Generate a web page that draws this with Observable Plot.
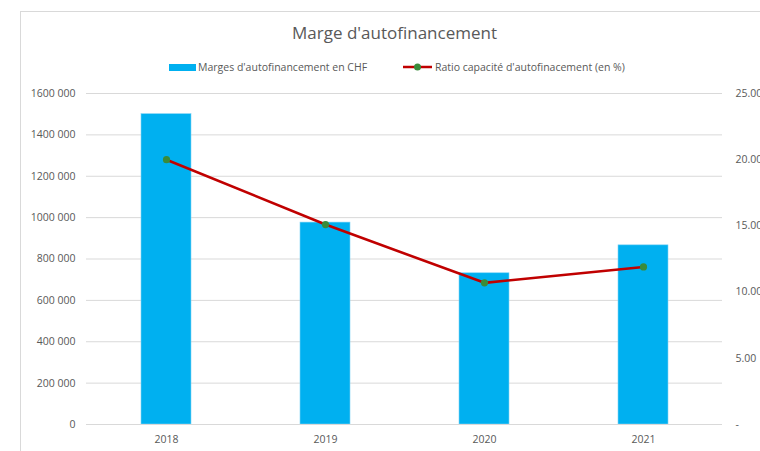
<!DOCTYPE html>
<html>
<head>
<meta charset="utf-8">
<script src="https://cdn.jsdelivr.net/npm/d3@7"></script>
<script src="https://cdn.jsdelivr.net/npm/@observablehq/plot@0.6"></script>
<style>
  html, body { margin: 0; padding: 0; background: #fff; overflow: hidden; }
  body { width: 760px; height: 451px; position: relative; font-family: "Open Sans", sans-serif; color: #595959; }
  #frame { position: absolute; left: 20px; top: 11px; width: 800px; height: 500px; border: 1px solid #d9d9d9; box-sizing: border-box; }
  #title { position: absolute; left: 0; width: 789px; top: 21px; text-align: center; font-size: 17px; color: #595959; }
  .leg { position: absolute; top: 59px; font-size: 10.5px; color: #595959; white-space: nowrap; line-height: 16px; }
  #chart { position: absolute; left: 0; top: 0; }
</style>
</head>
<body>
<div id="frame"></div>
<div id="title">Marge d'autofinancement</div>
<div class="leg" style="left:169px;"><span style="display:inline-block;width:27px;height:7px;background:#00B0F0;vertical-align:middle;margin-right:2px;position:relative;top:-1px;"></span>Marges d'autofinancement en CHF</div>
<div class="leg" style="left:403px;"><svg width="29" height="10" style="vertical-align:middle;margin-right:3px;position:relative;top:-1px;"><line x1="0" y1="5" x2="29" y2="5" stroke="#C00000" stroke-width="2.5"/><circle cx="14.5" cy="5" r="3.5" fill="#3a8b3a"/></svg>Ratio capacité d'autofinacement (en %)</div>
<div id="chart"></div>
<script>
const years = ["2018", "2019", "2020", "2021"];
const marges = [1500000, 976000, 731000, 866000];
const ratios = [20.0, 15.1, 10.7, 11.9];
const leftTicks = [0, 200000, 400000, 600000, 800000, 1000000, 1200000, 1400000, 1600000];
const rightTicks = [0, 5, 10, 15, 20, 25];

const yMax = 1600000;
const rMax = 25;
const k = yMax / rMax;

const data = years.map((y, i) => ({year: y, marge: marges[i], ratio: ratios[i], ry: ratios[i] * k}));

function fmtLeft(v) {
  if (v === 0) return "0";
  const th = Math.floor(v / 1000);
  return th + " 000";
}
function fmtRight(v) {
  const p = v / k;
  if (Math.abs(p) < 1e-9) return "-";
  return p.toFixed(2);
}

const font = "Open Sans, sans-serif";

const plot = Plot.plot({
  width: 760,
  height: 451,
  marginLeft: 86,
  marginRight: 38,
  marginTop: 93,
  marginBottom: 27,
  style: {fontFamily: font, fontSize: "10.5px", color: "#595959", background: "transparent"},
  x: {domain: years, paddingInner: 0.686, paddingOuter: 0.343, label: null},
  y: {domain: [0, yMax], label: null},
  marks: [
    Plot.gridY(leftTicks, {stroke: "#d9d9d9", strokeOpacity: 1, strokeWidth: 1}),
    Plot.barY(data, {x: "year", y: "marge", fill: "#00B0F0", stroke: "#7fd3f5", strokeWidth: 0.6}),
    Plot.ruleY([0], {stroke: "#d9d9d9", strokeWidth: 1.2}),
    Plot.line(data, {x: "year", y: "ry", stroke: "#C00000", strokeWidth: 2.6}),
    Plot.dot(data, {x: "year", y: "ry", r: 3.6, fill: "#3a8b3a", stroke: "none"}),
    Plot.axisY(leftTicks, {anchor: "left", tickSize: 0, tickPadding: 11, tickFormat: fmtLeft, label: null, fill: "#595959"}),
    Plot.axisY(rightTicks.map(t => t * k), {anchor: "right", tickSize: 0, tickPadding: 13, tickFormat: fmtRight, textAnchor: "start", label: null, fill: "#595959"}),
    Plot.axisX({anchor: "bottom", tickSize: 0, tickPadding: 11, label: null, fill: "#595959"})
  ]
});
document.getElementById("chart").appendChild(plot);
</script>
</body>
</html>
